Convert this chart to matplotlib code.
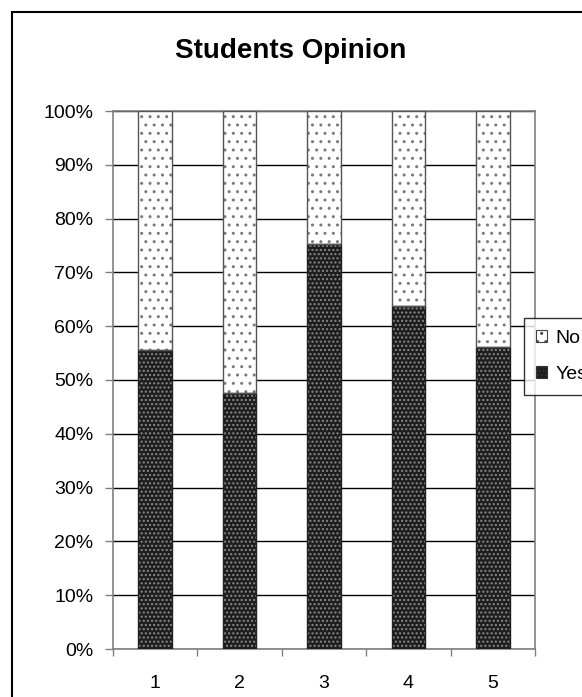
import matplotlib
matplotlib.use("Agg")
import matplotlib.pyplot as plt
from matplotlib.patches import Rectangle
from matplotlib.ticker import FuncFormatter, MultipleLocator

plt.rcParams['font.family'] = ['Liberation Sans', 'DejaVu Sans']
plt.rcParams['hatch.linewidth'] = 1.0

categories = ['1', '2', '3', '4', '5']
yes = [55.6, 47.6, 75.3, 63.8, 56.2]
no = [44.4, 52.4, 24.7, 36.2, 43.8]

W, H = 582, 697
fig = plt.figure(figsize=(W / 100, H / 100), dpi=100)
ax = fig.add_axes([113 / W, (H - 649) / H, (535 - 113) / W, (649 - 111) / H])

x = range(1, len(categories) + 1)
bw = 0.4

# yes bars: dark with light dots
ax.bar(x, yes, bw, color='#1e1e1e', hatch='....', edgecolor='#8a8a8a', linewidth=0, zorder=3)
ax.bar(x, yes, bw, facecolor='none', edgecolor='#222222', linewidth=1, zorder=4)
# no bars: white with grey dots
ax.bar(x, no, bw, bottom=yes, color='white', hatch='..', edgecolor='#7a7a7a', linewidth=0, zorder=3)
ax.bar(x, no, bw, bottom=yes, facecolor='none', edgecolor='#555555', linewidth=1, zorder=4)

ax.set_xlim(0.5, 5.5)
ax.set_ylim(0, 100)
ax.yaxis.set_major_locator(MultipleLocator(10))
ax.yaxis.set_major_formatter(FuncFormatter(lambda v, p: f'{v:.0f}%'))
ax.set_xticks(list(x))
ax.set_xticklabels(categories)
ax.set_xticks([i + 0.5 for i in range(0, 6)], minor=True)
ax.tick_params(axis='x', which='major', length=0, pad=19, labelsize=14)
ax.tick_params(axis='x', which='minor', length=5, width=1, color='#808080', direction='out')
ax.tick_params(axis='y', length=6, width=1, color='#808080', direction='out', pad=8, labelsize=14)

ax.grid(axis='y', color='black', linewidth=1, zorder=1)
ax.set_axisbelow(True)
for side in ['left', 'bottom', 'right', 'top']:
    ax.spines[side].set_color('#808080')
    ax.spines[side].set_linewidth(1.2)

fig.text(0.5, 1 - 51 / H, 'Students Opinion', ha='center', va='center',
         fontsize=20, fontweight='bold')

h_no = Rectangle((0, 0), 1, 1, facecolor='white', hatch='..', edgecolor='#444444', linewidth=0.8)
h_yes = Rectangle((0, 0), 1, 1, facecolor='#1e1e1e', hatch='....', edgecolor='#333333', linewidth=0.8)
leg = fig.legend([h_no, h_yes], ['No', 'Yes'], loc='upper left',
                 bbox_to_anchor=(524 / W, 1 - 318 / H), borderaxespad=0,
                 fontsize=14, frameon=True, fancybox=False, edgecolor='black',
                 handlelength=0.6, handleheight=0.6, handletextpad=0.4,
                 labelspacing=1.0, borderpad=0.6)
leg.get_frame().set_linewidth(1)

# outer chart border (extends past right and bottom of the image)
fig.patches.append(Rectangle((12 / W, -0.1), 2, 1 - 12 / H + 0.1, transform=fig.transFigure,
                             fill=False, edgecolor='black', linewidth=1.5))

fig.savefig('out.png', dpi=100)
